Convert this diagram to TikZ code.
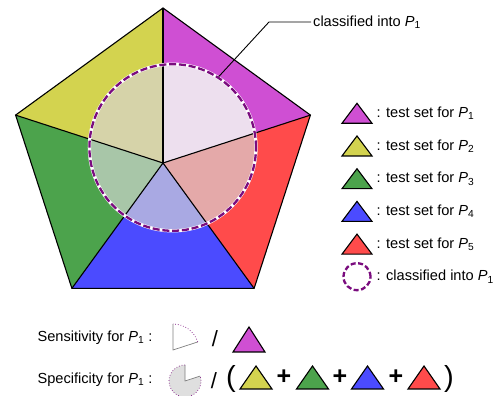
\documentclass[tikz,border=0pt]{standalone}
\usepackage{fontspec}
\setmainfont{Liberation Sans}
\definecolor{pOne}{HTML}{CF4FD3}
\definecolor{pTwo}{HTML}{D3D34F}
\definecolor{pThree}{HTML}{4CA34C}
\definecolor{pFour}{HTML}{4B4BFF}
\definecolor{pFive}{HTML}{FF4B4B}
\definecolor{pOneL}{HTML}{EDDFEE}
\definecolor{pTwoL}{HTML}{D6D3A9}
\definecolor{pThreeL}{HTML}{A8C6A8}
\definecolor{pFourL}{HTML}{A9A9E3}
\definecolor{pFiveL}{HTML}{E4A9A9}
\definecolor{ringc}{HTML}{7A0C7E}
\newcommand{\Pn}[1]{\textit{P}\textsubscript{#1}}
\tikzset{
  edge/.style={line width=1.1pt},
  ring/.style={draw=ringc, line width=2.3pt, dash pattern=on 7pt off 2.8pt,
    preaction={draw=white, line width=3.3pt, solid}},
  pics/tri/.style n args={3}{code={\draw[edge,fill=#1] (-#2,-#3) -- (#2,-#3) -- (0,#3) -- cycle;}}
}
\begin{document}
\begin{tikzpicture}[x=1pt,y=1pt,font=\fontsize{14.6}{17}\selectfont]
  \useasboundingbox (0,0) rectangle (499,396);
  % pentagon
  \begin{scope}[shift={(163,233)}]
    \coordinate (c) at (0,0);
    \coordinate (v1) at (90:155);
    \coordinate (v2) at (18:155);
    \coordinate (v3) at (-54:155);
    \coordinate (v4) at (-126:155);
    \coordinate (v5) at (162:155);
  \end{scope}
  \foreach \p/\q/\col in {v1/v2/pOne, v2/v3/pFive, v3/v4/pFour, v4/v5/pThree, v5/v1/pTwo}
    \fill[\col] (c) -- (\p) -- (\q) -- cycle;
  \begin{scope}
    \clip (172.7,248.5) circle (83.3);
    \foreach \p/\q/\col in {v1/v2/pOneL, v2/v3/pFiveL, v3/v4/pFourL, v4/v5/pThreeL, v5/v1/pTwoL}
      \fill[\col] (c) -- (\p) -- (\q) -- cycle;
  \end{scope}
  \draw[edge] (v1) -- (v2) -- (v3) -- (v4) -- (v5) -- cycle;
  \foreach \v in {v1,v2,v3,v4,v5}
    \draw[edge] (c) -- (\v);
  \node[ring, circle, inner sep=0, minimum size=166.6pt] (cls) at (172.7,248.5) {};

  % annotation
  \node[anchor=west, inner sep=2pt] (note) at (311,374) {classified into \Pn{1}};
  \draw[line width=0.9pt] (note.west) -- ++(-42,0) -- (cls.57);

  % legend
  \foreach \col [count=\i] in {pOne,pTwo,pThree,pFour,pFive}{
    \pgfmathsetmacro{\yy}{282.7-32.7*(\i-1)}
    \pic at (357,\yy) {tri={\col}{15}{10}};
    \node[anchor=west, inner sep=1pt] (leg\i) at (375.5,\yy) {: test set for \Pn{\i}};
  }
  \node[ring, circle, inner sep=0, minimum size=27pt, dash pattern=on 5pt off 2.5pt] (legc) at (357,119.3) {};
  \node[anchor=west, inner sep=1pt] (leg6) at (375.5,119.3) {: classified into \Pn{1}};

  % sensitivity
  \node[anchor=west] (sens) at (34,58) {Sensitivity for \Pn{1} :};
  \fill[white] (173,46) -- ++(18:26) arc (18:90:26) -- cycle;
  \draw[gray, line width=0.7pt] (173,72) -- (173,46) -- ++(18:26);
  \draw[ringc, dotted, line width=0.7pt] (173,46) ++(18:26) arc (18:90:26);
  \node[font=\fontsize{22}{24}\selectfont] (sl1) at (215,57) {/};
  \pic at (249,56.5) {tri={pOne}{16}{12.5}};

  % specificity
  \node[anchor=west] (spec) at (34,16) {Specificity for \Pn{1} :};
  \fill[gray!25] (185,15) -- ++(90:16) arc (90:378:16) -- cycle;
  \draw[gray, line width=0.7pt] (185,31) -- (185,15) -- ++(18:16);
  \draw[ringc, dotted, line width=0.7pt] (185,15) ++(90:16) arc (90:378:16);
  \node[font=\fontsize{22}{24}\selectfont] (sl2) at (214,15) {/};
  \node[font=\fontsize{29}{32}\selectfont] (lp) at (231,17) {(};
  \foreach \col/\x in {pTwo/256, pThree/312.5, pFour/367.5, pFive/424}
    \pic at (\x,18.5) {tri={\col}{16}{11.5}};
  \foreach \x in {284,340,396}
    \node[font=\fontsize{25}{27}\selectfont\bfseries] at (\x,19) {+};
  \node[font=\fontsize{29}{32}\selectfont] (rp) at (449,17) {)};
\end{tikzpicture}
\end{document}
